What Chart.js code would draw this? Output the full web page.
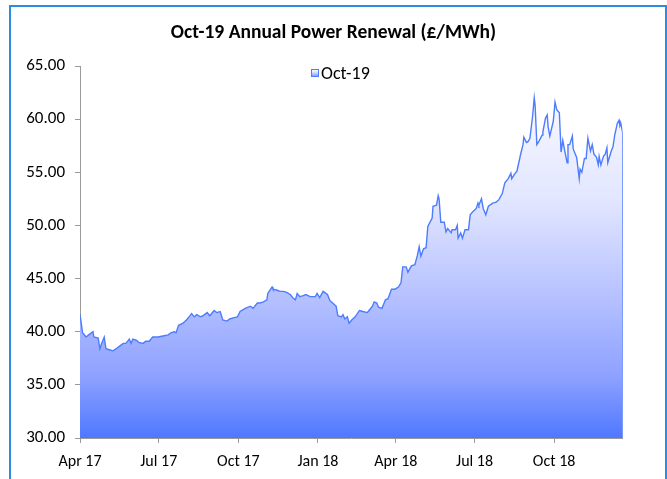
<!DOCTYPE html>
<html>
<head>
<meta charset="utf-8">
<script src="https://cdn.jsdelivr.net/npm/chart.js@4.4.1/dist/chart.umd.min.js"></script>
<style>
  body { margin: 0; background: #fff; }
  #frame {
    position: absolute; left: 9px; top: 5px; width: 654px; height: 500px;
    border: 2px solid #2a8de0; border-bottom: none;
  }
  #wrap { position: absolute; left: 0; top: 0; width: 667px; height: 479px; }
</style>
</head>
<body>
<div id="frame"></div>
<div id="wrap"><canvas id="myChart" width="667" height="479"></canvas></div>
<script>
// days counted from 1 Apr 2017
const dayOffsets = [
  0, 3, 7, 10, 15, 16, 21, 23, 25, 28, 30, 34, 38, 42, 45, 50, 53, 57, 59, 61,
  65, 68, 73, 76, 80, 84, 90, 96, 102, 105, 109, 111, 114, 119, 123, 126, 129, 132, 135, 139,
  142, 147, 150, 155, 158, 162, 165, 170, 173, 177, 182, 185, 191, 197, 200, 205, 208, 212, 216, 217,
  222, 223, 228, 231, 235, 239, 243, 246, 249, 251, 254, 258, 261, 266, 272, 274, 277, 281, 286, 289,
  292, 296, 298, 302, 304, 306, 309, 311, 314, 318, 323, 327, 332, 334, 338, 340, 343, 345, 349, 353,
  356, 360, 364, 368, 371, 373, 377, 379, 383, 387, 390, 392, 394, 397, 400, 402, 407, 408, 412, 414,
  415, 417, 421, 423, 425, 429, 430, 434, 436, 437, 440, 442, 445, 449, 451, 454, 458, 460, 461, 464,
  466, 469, 472, 477, 481, 484, 488, 491, 495, 498, 499, 502, 505, 509, 512, 513, 516, 518, 520, 523,
  525, 526, 528, 531, 534, 535, 538, 540, 541, 543, 547, 549, 551, 554, 556, 558, 560, 563, 564, 566,
  569, 570, 572, 574, 577, 578, 580, 583, 585, 587, 590, 592, 594, 597, 599, 600, 602, 605, 607, 609,
  610, 614, 616, 618, 621, 623, 624, 625, 627
];
const prices = [
  41.6, 39.9, 39.5, 39.7, 40.0, 39.5, 39.4, 38.4, 38.9, 39.5, 38.4, 38.3, 38.2, 38.4, 38.6, 38.9, 38.9, 39.3, 38.9, 39.3,
  39.2, 39.0, 38.9, 39.1, 39.1, 39.5, 39.5, 39.6, 39.7, 39.9, 40.0, 39.9, 40.6, 40.8, 41.1, 41.4, 41.7, 41.4, 41.6, 41.4,
  41.5, 41.8, 41.5, 42.0, 41.8, 41.9, 41.1, 41.0, 41.2, 41.3, 41.4, 41.9, 42.2, 42.4, 42.2, 42.7, 42.7, 42.8, 43.0, 43.6,
  44.2, 44.0, 43.9, 43.8, 43.8, 43.7, 43.5, 43.2, 43.0, 43.6, 43.3, 43.4, 43.5, 43.3, 43.3, 43.6, 43.2, 43.8, 43.5, 42.9,
  42.7, 42.4, 41.5, 41.4, 41.6, 41.2, 41.4, 40.8, 41.1, 41.4, 42.0, 41.9, 41.8, 42.0, 42.4, 42.8, 42.7, 42.3, 42.2, 43.0,
  43.1, 44.0, 44.0, 44.2, 44.6, 46.1, 46.1, 45.6, 46.2, 46.3, 47.2, 48.0, 47.1, 47.8, 47.9, 49.9, 50.7, 51.8, 51.9, 52.8,
  52.5, 50.3, 50.3, 49.4, 49.7, 49.3, 49.6, 49.6, 50.0, 48.8, 49.3, 48.8, 49.6, 49.6, 51.0, 51.3, 51.6, 52.1, 51.9, 52.5,
  51.6, 51.0, 51.8, 52.1, 52.2, 52.4, 53.0, 54.0, 54.4, 54.9, 54.4, 54.8, 55.1, 56.6, 57.6, 58.3, 57.8, 57.9, 58.2, 60.2,
  62.0, 61.3, 57.6, 58.0, 58.5, 58.8, 60.1, 60.4, 59.3, 58.4, 59.8, 61.6, 60.9, 60.6, 56.9, 58.0, 57.1, 55.9, 57.6, 57.6,
  58.4, 57.2, 56.8, 56.4, 54.4, 55.3, 55.0, 56.3, 56.3, 58.2, 57.0, 57.6, 56.7, 56.4, 55.7, 56.5, 55.7, 56.5, 56.7, 57.3,
  55.9, 57.0, 57.4, 58.5, 59.6, 59.9, 59.4, 59.6, 58.8
];
const tickDays = [0, 91, 183, 275, 365, 456, 548];
const tickLabels = ['Apr 17', 'Jul 17', 'Oct 17', 'Jan 18', 'Apr 18', 'Jul 18', 'Oct 18'];
const seriesName = 'Oct-19';

const FONT = 'Carlito, Lato, sans-serif';

const fillGradient = (ctx, top, bottom) => {
  const g = ctx.createLinearGradient(0, top, 0, bottom);
  g.addColorStop(0, '#ffffff');
  g.addColorStop(0.36, '#e2e6ff');
  g.addColorStop(0.63, '#b4c0ff');
  g.addColorStop(0.84, '#8ca0ff');
  g.addColorStop(1, '#4f78ff');
  return g;
};

// legend drawn inside the plot, plus the right-hand edge of the area
const extras = {
  id: 'extras',
  afterDatasetsDraw(chart) {
    const { ctx, chartArea } = chart;
    const pts = chart.getDatasetMeta(0).data;
    const last = pts[pts.length - 1];
    ctx.save();
    ctx.strokeStyle = '#7d9bff';
    ctx.lineWidth = 1;
    ctx.beginPath();
    ctx.moveTo(last.x, last.y);
    ctx.lineTo(last.x, chartArea.bottom);
    ctx.stroke();

    const label = chart.data.datasets[0].label;
    ctx.font = `18px ${FONT}`;
    const box = 8;
    const x0 = 311;
    const yc = chartArea.top + 7;
    ctx.fillStyle = fillGradient(ctx, yc - box / 2, yc + box / 2);
    ctx.fillRect(x0, yc - box / 2, box, box);
    ctx.strokeStyle = '#4d7cff';
    ctx.strokeRect(x0 + 0.5, yc - box / 2 + 0.5, box - 1, box - 1);
    ctx.fillStyle = '#000';
    ctx.textBaseline = 'middle';
    ctx.fillText(label, x0 + box + 2, yc + 1);
    ctx.restore();
  },
};

const points = dayOffsets.map((d, i) => ({ x: d, y: prices[i] }));

const myChart = new Chart(document.getElementById('myChart'), {
  type: 'line',
  data: {
    datasets: [
      {
        label: seriesName,
        data: points,
        borderColor: '#4d7cff',
        borderWidth: 1.4,
        pointRadius: 0,
        tension: 0,
        fill: 'start',
        backgroundColor: (c) => {
          const a = c.chart.chartArea;
          if (!a) return '#a0b0ff';
          return fillGradient(c.chart.ctx, a.top, a.bottom);
        },
      },
    ],
  },
  options: {
    responsive: false,
    animation: false,
    layout: { padding: 0 },
    plugins: {
      legend: { display: false },
      tooltip: { enabled: false },
      title: {
        display: true,
        text: 'Oct-19 Annual Power Renewal (£/MWh)',
        color: '#000',
        font: { family: FONT, size: 19.5, weight: 'bold', lineHeight: 1.2 },
        padding: { top: 21, bottom: 21.6 },
      },
    },
    scales: {
      x: {
        type: 'linear',
        min: 0,
        max: 627,
        afterBuildTicks: (s) => {
          s.ticks = tickDays.map((v) => ({ value: v }));
        },
        afterFit: (s) => {
          s.height = 41;
        },
        ticks: {
          autoSkip: false,
          maxRotation: 0,
          color: '#000',
          padding: 9,
          font: { family: FONT, size: 16 },
          callback: (v) => tickLabels[tickDays.indexOf(v)],
        },
        grid: { drawOnChartArea: false, drawTicks: true, tickLength: 5, color: '#9a9a9a' },
        border: { display: true, color: '#9a9a9a' },
      },
      y: {
        min: 30,
        max: 65,
        afterFit: (s) => {
          s.width = 80;
        },
        ticks: {
          stepSize: 5,
          color: '#000',
          padding: 10,
          font: { family: FONT, size: 17 },
          callback: (v) => v.toFixed(2),
        },
        grid: { drawOnChartArea: false, drawTicks: true, tickLength: 5, color: '#9a9a9a' },
        border: { display: true, color: '#9a9a9a' },
      },
      // empty right-hand band so the plot ends where the reference does
      yRight: {
        position: 'right',
        min: 30,
        max: 65,
        afterFit: (s) => {
          s.width = 44.5;
        },
        ticks: { display: false },
        grid: { display: false },
        border: { display: false },
      },
    },
  },
  plugins: [extras],
});
</script>
</body>
</html>
